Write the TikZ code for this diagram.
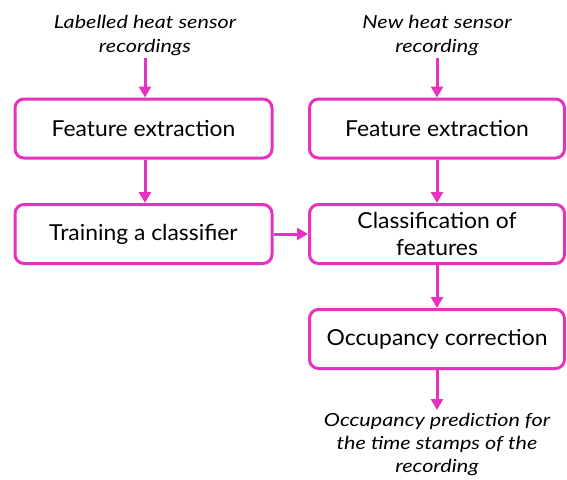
\documentclass[tikz,border=0pt]{standalone}
\usepackage{fontspec}
\setmainfont{Lato}
\newfontfamily\boxfont[FakeStretch=1.04]{Lato}
\newfontfamily\notefont[FakeStretch=1.2]{Lato Italic}
\usetikzlibrary{arrows.meta}
\definecolor{flowpink}{RGB}{230,50,190}
\begin{document}
\begin{tikzpicture}[x=1pt,y=-1pt,
  stepbox/.style={draw=flowpink, line width=3pt, rounded corners=9pt, fill=white,
    minimum width=257pt, minimum height=59pt, align=center, inner sep=0pt,
    font=\boxfont\fontsize{22}{27}\selectfont},
  note/.style={align=center, inner sep=0pt, font=\notefont\fontsize{18}{24}\selectfont},
  flow/.style={draw=flowpink, line width=3pt, -{Triangle[length=11pt,width=12pt]}}]
  \useasboundingbox (0,0) rectangle (567,479);
  % left column: training
  \node[note] (lin) at (145,36) {Labelled heat sensor\\recordings};
  \node[stepbox] (lfe) at (143.5,128.5) {Feature extraction};
  \node[stepbox] (ltr) at (143.5,234) {Training a classifier};
  % right column: prediction
  \node[note] (rin) at (437,36) {New heat sensor\\recording};
  \node[stepbox, minimum width=255pt] (rfe) at (437,128.5) {Feature extraction};
  \node[stepbox, minimum width=255pt] (rcl) at (437,234) {Classification of\\features};
  \node[stepbox, minimum width=255pt] (roc) at (437,339) {Occupancy correction};
  \node[note, font=\notefont\fontsize{18}{23}\selectfont] (rout) at (437,445) {Occupancy prediction for\\the time stamps of the\\recording};
  % connectors
  \draw[flow] (145,58) -- (lfe.north -| 145,0);
  \draw[flow] (lfe.south -| 145,0) -- (ltr.north -| 145,0);
  \draw[flow] (ltr.east) -- (rcl.west);
  \draw[flow] (437,58) -- (rfe.north);
  \draw[flow] (rfe.south) -- (rcl.north);
  \draw[flow] (rcl.south) -- (roc.north);
  \draw[flow] (roc.south) -- (437,410);
\end{tikzpicture}
\end{document}
